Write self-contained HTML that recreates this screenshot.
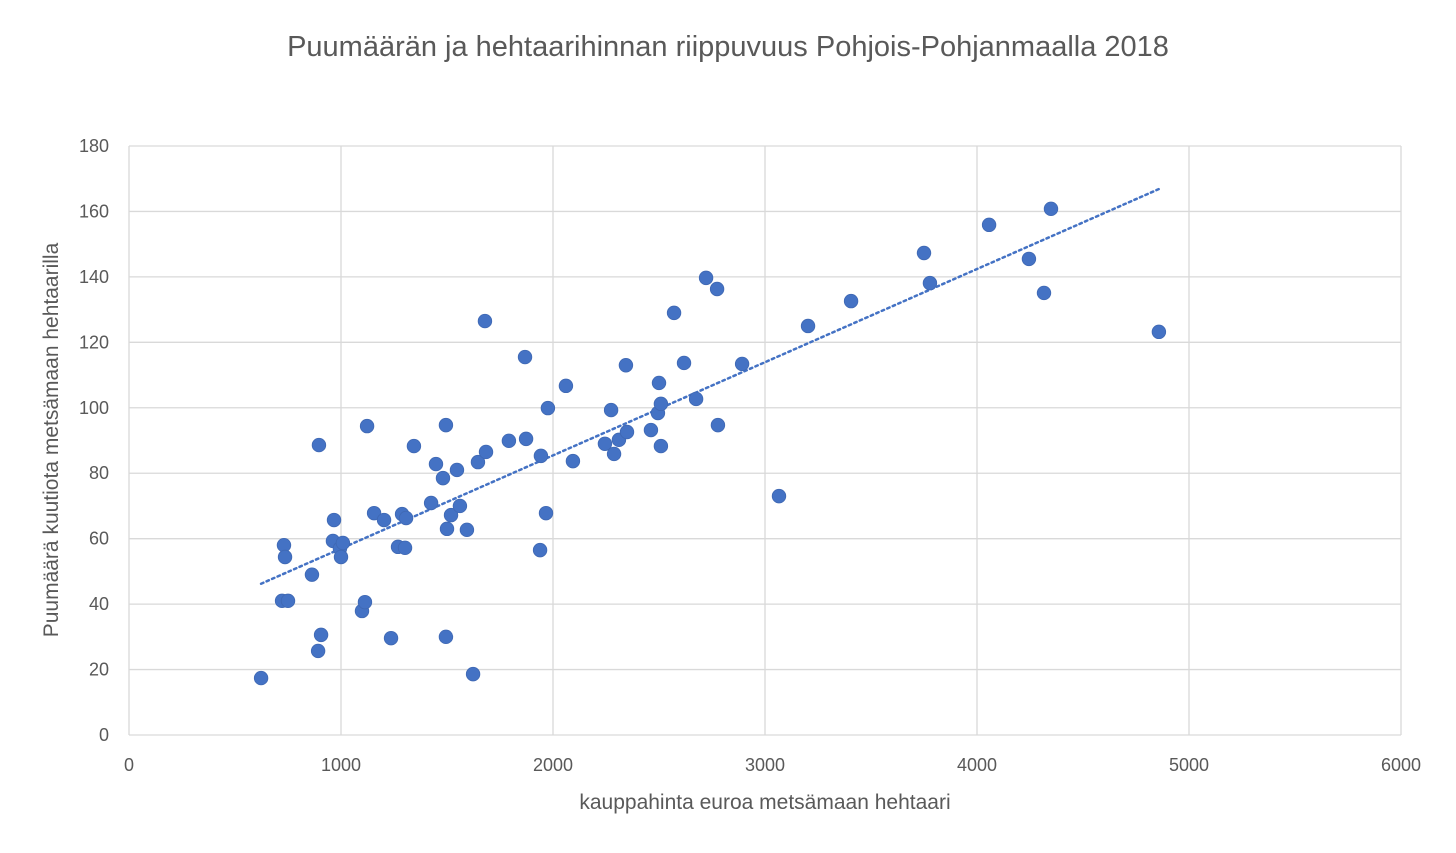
<!DOCTYPE html>
<html><head><meta charset="utf-8"><style>
body{margin:0;background:#fff;font-family:"Liberation Sans",sans-serif;}
</style></head><body>
<svg id="chart" width="1456" height="848" xmlns="http://www.w3.org/2000/svg">
<text x="728" y="56" text-anchor="middle" font-size="29" fill="#595959" font-family="Liberation Sans, sans-serif">Puumäärän ja hehtaarihinnan riippuvuus Pohjois-Pohjanmaalla 2018</text>
<g id="grid"></g>
<g id="ticks"></g>
<g id="trend"></g>
<g id="points"></g>
<text x="765" y="809" text-anchor="middle" font-size="21" fill="#595959" font-family="Liberation Sans, sans-serif">kauppahinta euroa metsämaan hehtaari</text>
<text transform="translate(58,440) rotate(-90)" text-anchor="middle" font-size="21" fill="#595959" font-family="Liberation Sans, sans-serif">Puumäärä kuutiota metsämaan hehtaarilla</text>
</svg>
<script>
const xTicks=[0,1000,2000,3000,4000,5000,6000];
const yTicks=[0,20,40,60,80,100,120,140,160,180];
const priceValues=[623,731,736,722,750,863,892,906,896,967,962,995,1009,1000,1099,1113,1123,1156,1203,1236,1269,1288,1302,1307,1344,1425,1448,1481,1495,1495,1500,1519,1547,1561,1594,1623,1646,1679,1684,1792,1868,1873,1939,1943,1967,1976,2061,2094,2245,2274,2288,2311,2344,2349,2462,2495,2500,2509,2509,2571,2618,2675,2722,2774,2778,2892,3066,3203,3406,3750,3778,4057,4245,4316,4349,4858];
const volumeValues=[17.4,58,54.4,41,41,49,25.7,30.6,88.6,65.7,59.3,57,58.7,54.4,37.9,40.6,94.4,67.8,65.7,29.6,57.5,67.5,57.2,66.3,88.3,70.9,82.8,78.5,94.7,30,63,67.2,81,70,62.7,18.6,83.4,126.5,86.5,89.9,115.5,90.5,56.5,85.3,67.8,99.9,106.7,83.7,89,99.3,85.9,90.2,113,92.6,93.2,98.4,107.6,101.2,88.3,129,113.7,102.7,139.7,136.3,94.7,113.4,73,125,132.6,147.3,138.1,155.9,145.5,135.1,160.8,123.2];
const NS="http://www.w3.org/2000/svg";
const X0=129,X1=1401,Y0=735,Y1=146;
const sx=v=>X0+(v-0)/6000*(X1-X0);
const sy=v=>Y0-(v-0)/180*(Y0-Y1);
function mk(tag,attrs,parent){const e=document.createElementNS(NS,tag);for(const k in attrs)e.setAttribute(k,attrs[k]);parent.appendChild(e);return e;}
const grid=document.getElementById('grid'),ticks=document.getElementById('ticks');
xTicks.forEach(t=>{
 const l=mk('line',{x1:sx(t),x2:sx(t),y1:Y1,y2:Y0,stroke:'#d9d9d9','stroke-width':1.3},grid);
 
 
 const tx=mk('text',{x:sx(t),y:771,'text-anchor':'middle','font-size':18,fill:'#595959'},ticks);
 tx.textContent=t;
 
 
});
yTicks.forEach(t=>{
 const l=mk('line',{x1:X0,x2:X1,y1:sy(t),y2:sy(t),stroke:'#d9d9d9','stroke-width':1.3},grid);
 
 
 const tx=mk('text',{x:109,y:sy(t)+6,'text-anchor':'end','font-size':18,fill:'#595959'},ticks);
 tx.textContent=t;
 
 
});
// linear regression trendline
const n=priceValues.length;let mx=0,my=0;
for(let i=0;i<n;i++){mx+=priceValues[i];my+=volumeValues[i];}mx/=n;my/=n;
let sxy=0,sxx=0;for(let i=0;i<n;i++){sxy+=(priceValues[i]-mx)*(volumeValues[i]-my);sxx+=(priceValues[i]-mx)**2;}
const b=sxy/sxx,a=my-b*mx;
const xmin=Math.min(...priceValues),xmax=Math.max(...priceValues);
const tl=mk('line',{x1:sx(xmin),y1:sy(a+b*xmin),x2:sx(xmax),y2:sy(a+b*xmax),stroke:'#4472c4','stroke-width':2.5,'stroke-dasharray':'2.5 3.5','stroke-linecap':'round'},document.getElementById('trend'));


const pts=document.getElementById('points');
for(let i=0;i<n;i++){
 const c=mk('circle',{cx:sx(priceValues[i]),cy:sy(volumeValues[i]),r:6.8,fill:'#4472c4',stroke:'#3f68b3','stroke-width':0.8},pts);
 
 
}
</script>
</body></html>
